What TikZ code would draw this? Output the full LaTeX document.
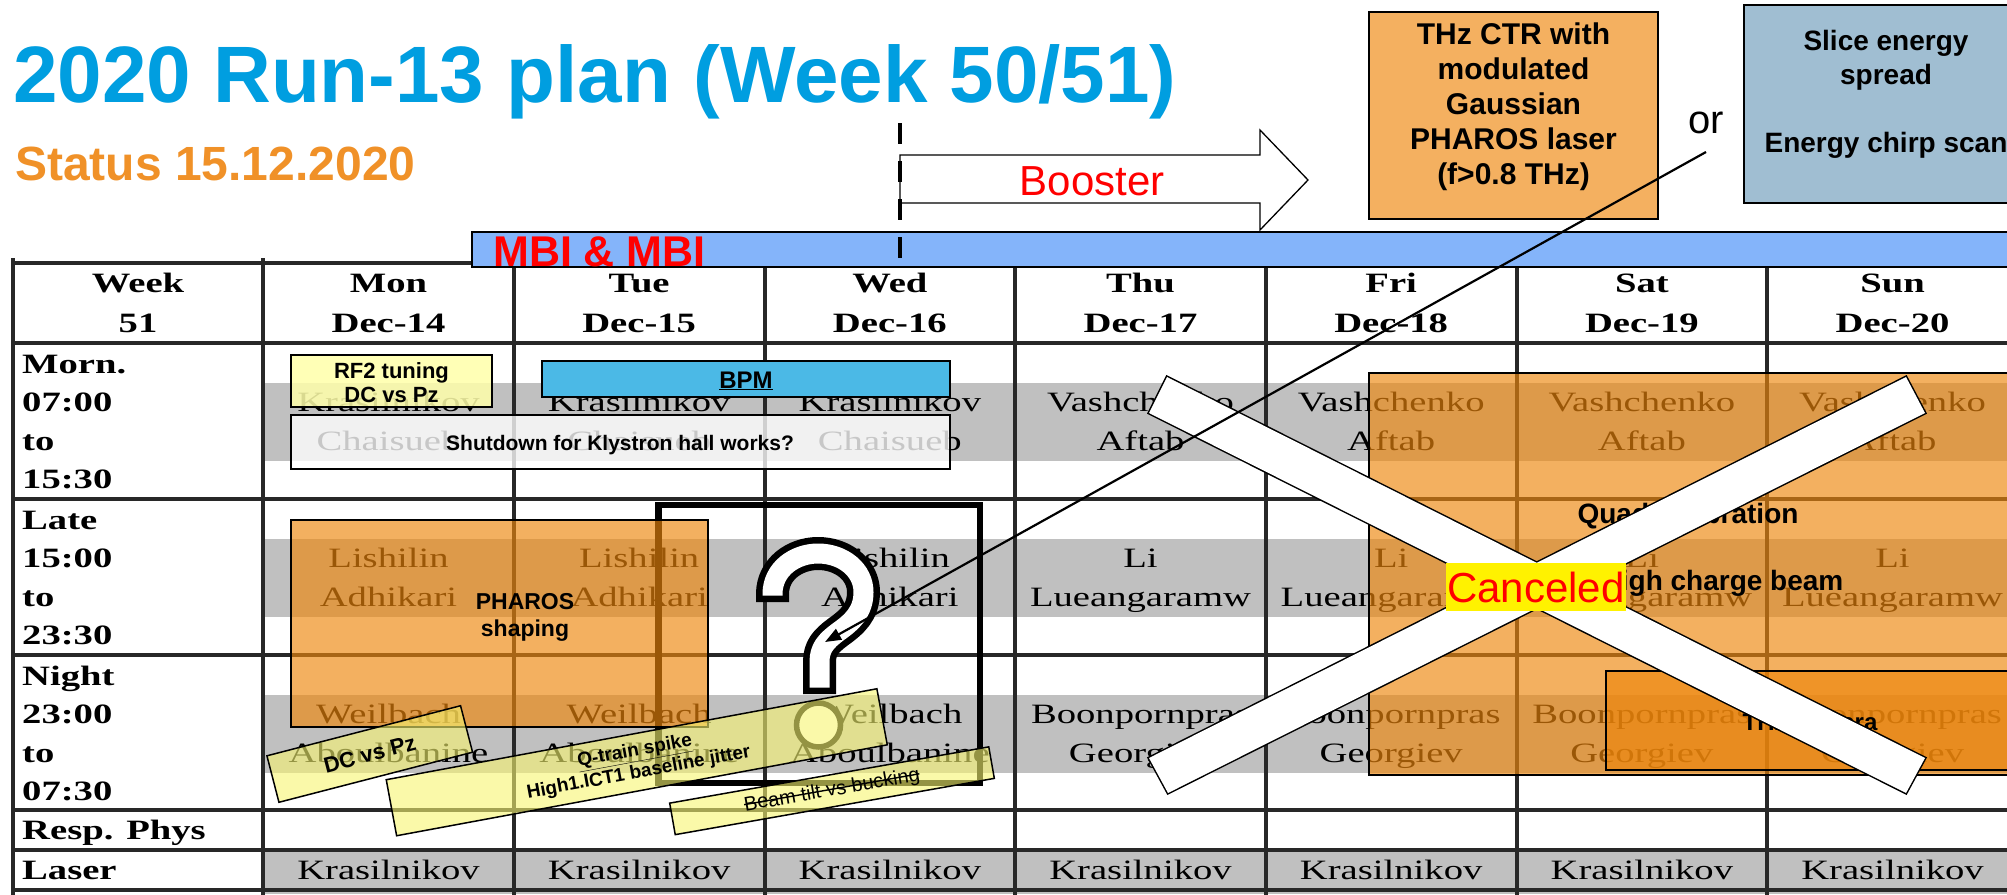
\documentclass[tikz,border=0pt]{standalone}
\usepackage{fontspec}
\setmainfont{Liberation Serif}
\newfontfamily\arial{Liberation Sans}
\usepackage{graphicx}
\usetikzlibrary{arrows.meta}
\definecolor{titleblue}{RGB}{0,158,224}
\definecolor{statusorange}{RGB}{240,145,40}
\definecolor{mbiblue}{RGB}{132,180,250}
\definecolor{thzorange}{RGB}{244,176,96}
\definecolor{sliceblue}{RGB}{160,190,210}
\definecolor{bpmblue}{RGB}{75,185,230}
\definecolor{rfyellow}{RGB}{255,255,170}
\definecolor{tiltyellow}{RGB}{247,245,113}
\definecolor{ovorange}{RGB}{238,134,11}
\definecolor{bandgray}{RGB}{192,192,192}
\definecolor{gridgray}{RGB}{40,40,40}
\newcommand\fsz[2]{\fontsize{#1}{#2}\selectfont}
\newcommand\stretchtxt[1]{\scalebox{1.38}[1]{#1}}
\newsavebox\mystrikebox
\newcommand\mystrike[1]{\sbox\mystrikebox{#1}\rlap{\rule[0.3em]{\wd\mystrikebox}{0.07em}}\usebox\mystrikebox}
\begin{document}
\begin{tikzpicture}[x=1pt,y=-1pt,
  cell/.style={inner sep=0pt, anchor=base, font=\fsz{28}{30}},
  hcell/.style={inner sep=0pt, anchor=base, font=\bfseries\fsz{28}{30}},
  lab/.style={inner sep=0pt, anchor=base west, font=\bfseries\fsz{28}{30}},
  grid/.style={line width=3.2pt, draw=gridgray},
  boxline/.style={draw=black, line width=1.5pt},
  tiltbox/.style={boxline, fill=tiltyellow, fill opacity=0.6, text opacity=1, inner sep=0pt},
  overbox/.style={boxline, fill=ovorange, fill opacity=0.65},
  sbold/.style={inner sep=0pt, font=\arial\bfseries\fsz{#1}{#1}}
]
\useasboundingbox (0,0) rectangle (2007,894);
\clip (0,0) rectangle (2007,894);
\fill[white] (0,0) rectangle (2007,894);

% ---------- gray bands ----------
\fill[bandgray] (263,383) rectangle (2030,461);
\fill[bandgray] (263,539) rectangle (2030,617);
\fill[bandgray] (263,695) rectangle (2030,773);
\fill[bandgray] (263,850) rectangle (2030,894);

% ---------- table text ----------
\node[hcell] (week) at (138,292) {\stretchtxt{Week}};
\node[hcell] (weekno) at (138,332) {\stretchtxt{51}};
\foreach \d/\dt [count=\c from 0] in {Mon/Dec-14,Tue/Dec-15,Wed/Dec-16,Thu/Dec-17,Fri/Dec-18,Sat/Dec-19,Sun/Dec-20}{
  \pgfmathsetmacro\cx{388.5+250.67*\c}
  \node[hcell] (day\c) at (\cx,292) {\stretchtxt{\d}};
  \node[hcell] (date\c) at (\cx,332) {\stretchtxt{\dt}};
  \node[cell] (laser\c) at (\cx,879) {\stretchtxt{Krasilnikov}};
}
\foreach \ma/\mb/\la/\lb/\na/\nb [count=\c from 0] in {
  Krasilnikov/Chaisueb/Lishilin/Adhikari/Weilbach/Aboulbanine,
  Krasilnikov/Chaisueb/Lishilin/Adhikari/Weilbach/Aboulbanine,
  Krasilnikov/Chaisueb/Lishilin/Adhikari/Weilbach/Aboulbanine,
  Vashchenko/Aftab/Li/Lueangaramw/Boonpornpras/Georgiev,
  Vashchenko/Aftab/Li/Lueangaramw/Boonpornpras/Georgiev,
  Vashchenko/Aftab/Li/Lueangaramw/Boonpornpras/Georgiev,
  Vashchenko/Aftab/Li/Lueangaramw/Boonpornpras/Georgiev}{
  \pgfmathsetmacro\cx{388.5+250.67*\c}
  \node[cell] (ma\c) at (\cx,411) {\stretchtxt{\ma}};
  \node[cell] (mb\c) at (\cx,450) {\stretchtxt{\mb}};
  \node[cell] (la\c) at (\cx,567) {\stretchtxt{\la}};
  \node[cell] (lb\c) at (\cx,606) {\stretchtxt{\lb}};
  \node[cell] (na\c) at (\cx,723) {\stretchtxt{\na}};
  \node[cell] (nb\c) at (\cx,762) {\stretchtxt{\nb}};
}
\foreach \t/\y [count=\i] in {Morn./373,07:00/411,to/450,15:30/488,Late/529,15:00/567,to/606,23:30/644,Night/685,23:00/723,to/762,07:30/800,Resp. Phys/839,Laser/879}{
  \node[lab] (rowlab\i) at (22,\y) {\stretchtxt{\t}};
}

% ---------- table grid ----------
\foreach \x in {13,263,514,765,1015,1266,1517,1767,2018} \draw[grid] (\x,258) -- (\x,900);
\foreach \y in {263,343,499,655,810,850,890} \draw[grid] (13,\y) -- (2030,\y);

% ---------- MBI bar ----------
\draw[boxline, fill=mbiblue] (472,232) rectangle (2030,267);
\begin{scope}
  \clip (472,232) rectangle (2030,267);
  \node[sbold=43, anchor=base west, text=red] (mbi) at (493,266) {MBI \& MBI};
\end{scope}

% ---------- title ----------
\node[sbold=80, anchor=base west, text=titleblue] (title) at (13,102) {2020 Run-13 plan (Week 50/51)};
\node[sbold=48, anchor=base west, text=statusorange] (status) at (15,180) {Status 15.12.2020};

% ---------- Booster arrow ----------
\draw[boxline, fill=white, line width=1.3pt] (900,155) -- (1260,155) -- (1260,130) -- (1308,180) -- (1260,230) -- (1260,203) -- (900,203) -- cycle;
\node[inner sep=0pt, anchor=base, text=red, font=\arial\fsz{42}{42}] (booster) at (1092,195) {Booster};
\draw[line width=4pt, dash pattern=on 21pt off 17pt] (900,123) -- (900,262);

% ---------- top boxes ----------
\draw[boxline, fill=thzorange] (1369,12) rectangle (1658,219);
\node[inner sep=0pt, anchor=north, align=center, font=\arial\bfseries\fsz{30}{34.8}] (thztext) at (1513.5,23) {THz CTR with\\modulated\\Gaussian\\PHAROS laser\\(f>0.8 THz)};
\node[inner sep=0pt, anchor=base, font=\arial\fsz{40}{40}] (or) at (1706,133) {or};
\draw[boxline, fill=sliceblue] (1744,5) rectangle (2030,203);
\node[inner sep=0pt, anchor=north, align=center, font=\arial\bfseries\fsz{28}{34}] (slicetext) at (1886,29.6) {Slice energy\\spread\\\mbox{}\\Energy chirp scan};

% ---------- question mark ----------
\draw[line width=6.5pt] (658.5,505) rectangle (980,783);
\draw[line width=33pt, line cap=butt, line join=round] (772.5,602) -- (772.5,594) .. controls (772.5,569) and (795,553.5) .. (818,553.5) .. controls (843,553.5) and (863.5,570) .. (863.5,592) .. controls (863.5,612) and (852,622) .. (838,632) .. controls (826,641) and (819.5,648) .. (819.5,662) -- (819.5,694);
\draw[white, line width=20pt, line cap=butt, line join=round] (772.5,595.5) -- (772.5,594) .. controls (772.5,569) and (795,553.5) .. (818,553.5) .. controls (843,553.5) and (863.5,570) .. (863.5,592) .. controls (863.5,612) and (852,622) .. (838,632) .. controls (826,641) and (819.5,648) .. (819.5,662) -- (819.5,687.5);
\draw[line width=5.5pt, fill=white] (818.5,725) circle[radius=22];

% ---------- left overlays ----------
\draw[boxline, fill=rfyellow, fill opacity=0.85] (291,355) rectangle (492,407);
\node[inner sep=0pt, anchor=north, align=center, font=\arial\bfseries\fsz{22}{24}] (rf2) at (391.5,362) {RF2 tuning\\DC vs Pz};
\draw[boxline, fill=bpmblue] (542,361) rectangle (950,397);
\node[sbold=24, anchor=base] (bpm) at (746,388) {\underline{BPM}};
\draw[boxline, fill=white, fill opacity=0.78] (291,415) rectangle (950,469);
\node[sbold=21, anchor=base] (shutdown) at (620,450) {Shutdown for Klystron hall works?};
\draw[overbox] (291,520) rectangle (708,727);
\node[inner sep=0pt, anchor=north, align=center, font=\arial\bfseries\fsz{23}{27}] (pharos) at (525,593) {PHAROS\\shaping};

% ---------- tilted notes ----------
\node[tiltbox, rotate=14.5, minimum width=200pt, minimum height=48pt, font=\arial\bfseries\fsz{22}{24}] (dcpz) at (369.75,754) {DC vs Pz};
\node[tiltbox, rotate=10.5, minimum width=499pt, minimum height=57pt, align=center, font=\arial\bfseries\fsz{19}{22}] (qtrain) at (636.75,762.25) {\underline{Q-train spike}\\High1.ICT1 baseline jitter};
\node[tiltbox, rotate=10, minimum width=324pt, minimum height=32pt, font=\arial\fsz{20}{22}] (beamtilt) at (832,790.75) {\mystrike{Beam tilt vs bucking}};

% ---------- right overlays ----------
\draw[overbox] (1369,373) rectangle (2030,775);
\node[sbold=28, anchor=base] (quad) at (1688,523) {Quad calibration};
\node[sbold=28, anchor=base] (highq) at (1722,590) {High charge beam};
\draw[overbox] (1606,671) rectangle (2030,770);
\node[sbold=24, anchor=base] (thzcam) at (1810,730) {THz camera};

% ---------- cancel cross ----------
\draw[line width=3pt, line join=miter] (1167,377) -- (1925,758) -- (1906,793) -- (1149,413) -- cycle
  (1906,377) -- (1925,413) -- (1168,793) -- (1149,758) -- cycle;
\fill[white] (1167,377) -- (1925,758) -- (1906,793) -- (1149,413) -- cycle
  (1906,377) -- (1925,413) -- (1168,793) -- (1149,758) -- cycle;
\node[fill=yellow, text=red, inner sep=0pt, minimum width=180pt, minimum height=48pt, font=\arial\fsz{42}{42}] (cancel) at (1536,587) {Canceled};

% ---------- pointer ----------
\coordinate (orfoot) at (1706,152);
\coordinate (qtip) at (825,642);
\draw[line width=2.2pt, -{Triangle[length=16pt,width=12pt]}] (orfoot) -- (qtip);
\end{tikzpicture}
\end{document}
